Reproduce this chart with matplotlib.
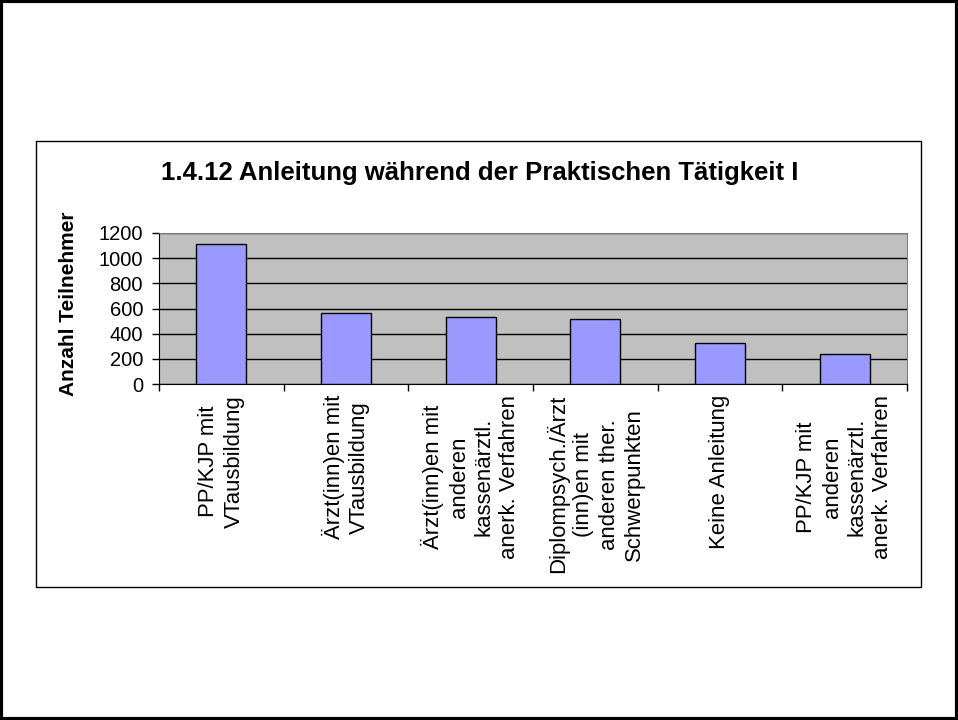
import matplotlib
matplotlib.use("Agg")
import matplotlib.pyplot as plt
from matplotlib.patches import Rectangle

plt.rcParams['font.family'] = ['Liberation Sans', 'DejaVu Sans']

categories = [
    "PP/KJP mit\nVTausbildung",
    "Ärzt(inn)en mit\nVTausbildung",
    "Ärzt(inn)en mit\nanderen\nkassenärztl.\nanerk. Verfahren",
    "Diplompsych./Ärzt\n(inn)en mit\nanderen ther.\nSchwerpunkten",
    "Keine Anleitung",
    "PP/KJP mit\nanderen\nkassenärztl.\nanerk. Verfahren",
]
values = [1115, 567, 535, 515, 325, 240]
yticks = [0, 200, 400, 600, 800, 1000, 1200]
title = "1.4.12 Anleitung während der Praktischen Tätigkeit I"
ylabel = "Anzahl Teilnehmer"

W, H = 958, 720
fig = plt.figure(figsize=(W / 100, H / 100), dpi=100)

# outer border
fig.patches.append(Rectangle((0.0015, 0.002), 0.997, 0.996, transform=fig.transFigure,
                             fill=False, edgecolor="black", linewidth=3))
# chart box
fig.patches.append(Rectangle((36 / W, 1 - 587 / H), (921 - 36) / W, (587 - 141) / H,
                             transform=fig.transFigure, fill=False, edgecolor="black", linewidth=1))

ax = fig.add_axes([159 / W, 1 - 384 / H, (907 - 159) / W, (384 - 233) / H])
ax.set_facecolor("#C0C0C0")
x = list(range(len(values)))
ax.bar(x, values, width=0.4, color="#9999FF", edgecolor="black", linewidth=1, zorder=3)
ax.set_xlim(-0.5, len(values) - 0.5)
ax.set_ylim(0, 1200)
ax.set_yticks(yticks)
ax.set_yticklabels([str(v) for v in yticks], fontsize=14.5)
ax.yaxis.grid(True, color="black", linewidth=1, zorder=1)
ax.set_axisbelow(True)
ax.tick_params(axis="y", direction="out", length=5, width=1, pad=6.5)

ax.set_xticks([i - 0.5 for i in range(len(values) + 1)])
ax.set_xticklabels([])
ax.tick_params(axis="x", direction="out", length=5, width=1)
for i, lab in enumerate(categories):
    ax.annotate(lab, xy=(i, 0), xycoords=("data", "axes fraction"),
                xytext=(0, -8), textcoords="offset points",
                rotation=90, ha="center", va="top", multialignment="center",
                fontsize=15.9, linespacing=1.27)

for side in ["top", "right"]:
    ax.spines[side].set_color("#808080")
ax.spines["left"].set_color("black")
ax.spines["bottom"].set_color("black")

fig.text(480 / W, 1 - 173 / H, title, ha="center", va="center", fontsize=18.5, fontweight="bold")
fig.text(69 / W, 1 - 304 / H, ylabel, ha="center", va="center", rotation=90,
         fontsize=15, fontweight="bold")

fig.savefig("out.png", dpi=100)
